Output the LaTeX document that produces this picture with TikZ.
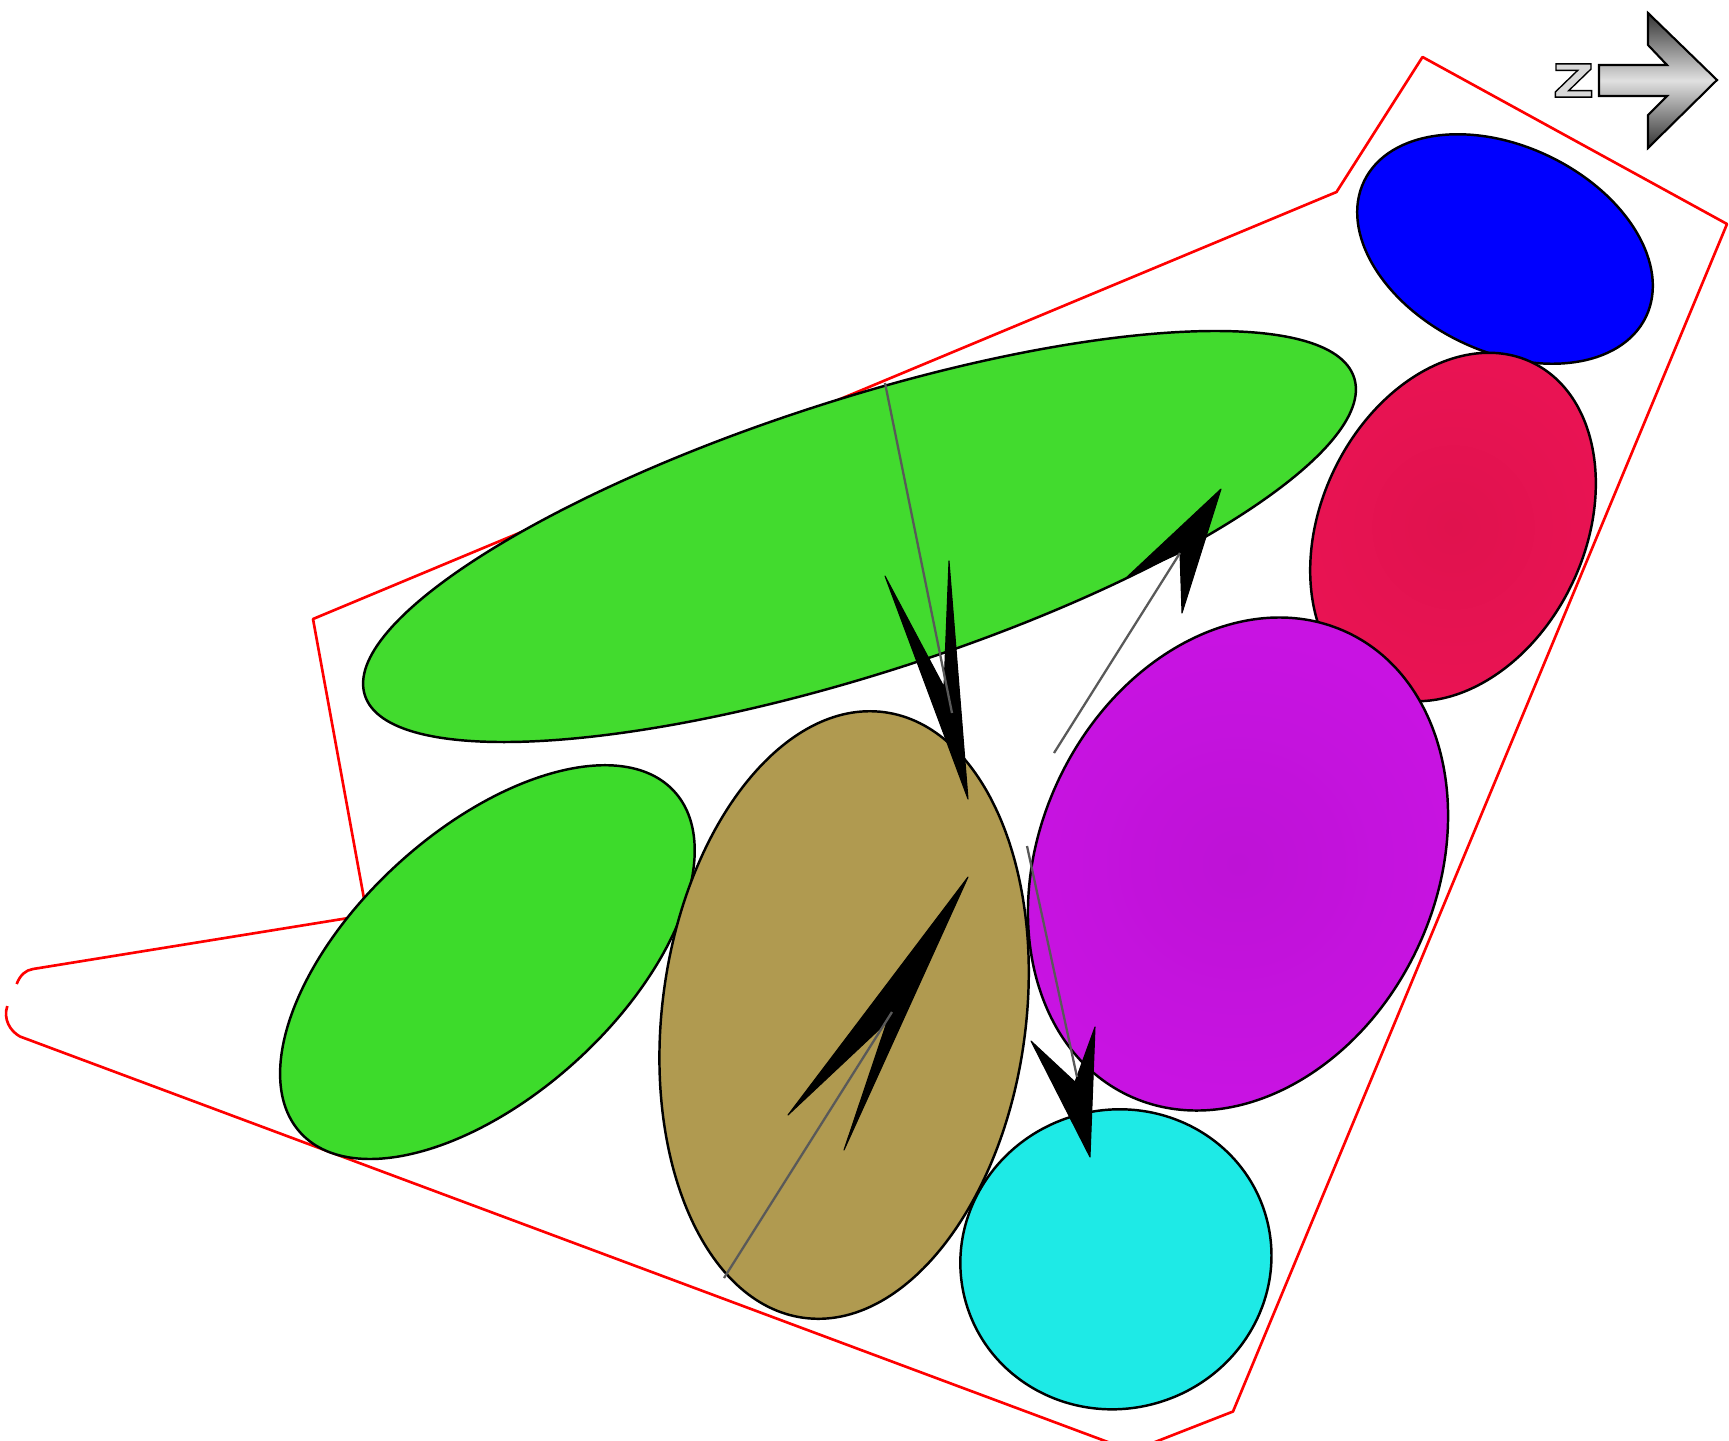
\documentclass[tikz,border=0pt]{standalone}
\usepackage{fontspec}
\newfontfamily\zfont[FakeStretch=1.25,BoldFeatures={FakeBold=3}]{DejaVu Sans}
\definecolor{helixgreen}{RGB}{66,219,46}
\definecolor{helixlime}{RGB}{61,219,43}
\definecolor{helixtan}{RGB}{176,154,80}
\definecolor{helixcyan}{RGB}{30,234,230}
\definecolor{crimsonin}{RGB}{224,18,78}
\definecolor{crimsonout}{RGB}{233,19,83}
\definecolor{purplein}{RGB}{190,18,214}
\definecolor{purpleout}{RGB}{200,19,226}

\begin{document}
\begin{tikzpicture}

\tikzset{blob/.style = {draw=black,line width=.7pt}}
\tikzset{outline/.style = {draw=red,line width=.75pt,line join=round}}
\tikzset{shaft/.style = {draw=black!65,line width=.65pt}}
\tikzset{head/.style = {fill=black,draw=black,line width=.3pt,line join=round}}

\clip (0,0) rectangle (17.29,-14.40);

% membrane outline
\draw[outline] (.167,-9.84) .. controls (.2,-9.75) and (.26,-9.70) .. (.33,-9.69)
  -- (3.67,-9.15) -- (3.13,-6.19) -- (13.365,-1.92) -- (14.225,-.57) -- (17.27,-2.24)
  -- (12.33,-14.115) -- (11.32,-14.51) -- (.20,-10.365)
  .. controls (.1,-10.31) and (.03,-10.19) .. (.073,-10.06);

% helices
\draw[blob,fill=blue,rotate around={-25.7:(15.05,-2.49)}] (15.05,-2.49) ellipse (1.564 and 1.027);
\shadedraw[blob,inner color=crimsonin,outer color=crimsonout,rotate around={64.3:(14.53,-5.27)}] (14.53,-5.27) ellipse (1.826 and 1.319);
\shadedraw[blob,inner color=purplein,outer color=purpleout,rotate around={64.6:(12.38,-8.64)}] (12.38,-8.64) ellipse (2.561 and 1.982);
\draw[blob,fill=helixgreen,rotate around={17.8:(8.595,-5.365)}] (8.595,-5.365) ellipse (5.195 and 1.37);
\draw[blob,fill=helixlime,rotate around={42.4:(4.874,-9.621)}] (4.874,-9.621) ellipse (2.531 and 1.329);
\draw[blob,fill=helixcyan,rotate around={17:(11.159,-12.593)}] (11.159,-12.593) ellipse (1.561 and 1.494);
\draw[blob,fill=helixtan,rotate around={82.43:(8.441,-10.15)}] (8.441,-10.15) ellipse (3.055 and 1.818);

% arrows
\coordinate (a1) at (7.24,-12.78);
\coordinate (a2) at (8.92,-10.12);
\coordinate (b1) at (8.85,-3.83);
\coordinate (b2) at (9.52,-7.13);
\coordinate (c1) at (10.54,-7.53);
\coordinate (c2) at (11.80,-5.53);
\coordinate (d1) at (10.27,-8.46);
\coordinate (d2) at (10.77,-10.77);

\fill[head] (9.68,-8.77) -- (7.88,-11.15) -- (8.87,-10.22) -- (8.44,-11.50) -- cycle;
\fill[head] (9.68,-7.99) -- (8.85,-5.76) -- (9.44,-6.87) -- (9.49,-5.61) -- cycle;
\fill[head] (12.21,-4.89) -- (11.27,-5.77) -- (11.80,-5.53) -- (11.82,-6.13) -- cycle;
\fill[head] (10.90,-11.57) -- (10.31,-10.41) -- (10.75,-10.82) -- (10.95,-10.27) -- cycle;

\draw[shaft] (a1) -- (a2);
\draw[shaft] (b1) -- (b2);
\draw[shaft] (c1) -- (c2);
\draw[shaft] (d1) -- (d2);

% axis marker
\shadedraw[draw=black,line width=.6pt,top color=black!80,bottom color=black!80,middle color=black!12]
  (15.99,-.65) -- (16.67,-.65) -- (16.48,-.45) -- (16.48,-.13) -- (17.17,-.80)
  -- (16.48,-1.48) -- (16.48,-1.15) -- (16.67,-.96) -- (15.99,-.96) -- cycle;
\node[inner sep=0pt] (zmark) at (15.735,-.805)
  {\special{pdf:bcolor [0.85] [0]}\zfont\bfseries\fontsize{13}{13}\selectfont Z\special{pdf:ecolor}};

\end{tikzpicture}
\end{document}
